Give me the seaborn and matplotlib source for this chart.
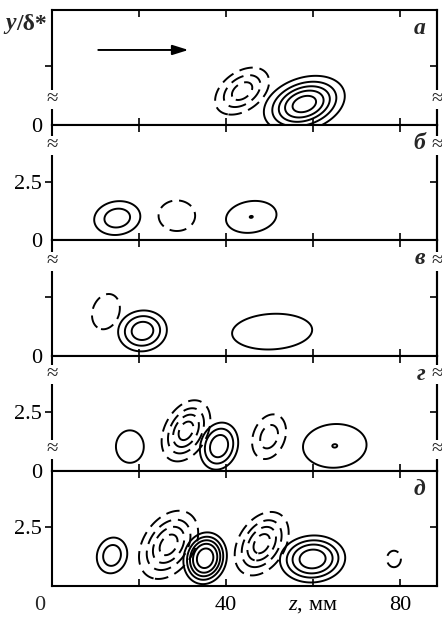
import numpy as np
import pandas as pd
import matplotlib
matplotlib.use("Agg")
import matplotlib.pyplot as plt
import matplotlib.transforms as mtransforms
import seaborn as sns

# contour blobs
# centre (mm, y/delta*), half-width of the outer contour, tilt, peak in contour steps
# (positive = solid, negative = dashed), squareness of the contours
blob_panel = [0, 0, 1, 1, 1, 2, 2, 2, 3, 3, 3, 3, 3, 4, 4, 4, 4, 4, 4]
blob_cx = [58.0, 43.7, 15.0, 28.7, 45.8, 12.4, 20.8, 50.6, 17.9, 30.8, 38.4, 49.9, 65.0,
           13.8, 26.8, 35.2, 48.2, 59.9, 78.6]
blob_cy = [0.9, 1.45, 0.95, 1.05, 1.0, 1.87, 1.05, 1.02, 1.03, 1.7, 1.05, 1.45, 1.06,
           1.3, 1.75, 1.18, 1.8, 1.15, 1.15]
blob_wx = [9.3, 6.2, 5.3, 4.2, 5.8, 3.2, 5.6, 9.2, 3.2, 5.6, 4.4, 3.9, 7.3,
           3.5, 6.8, 5.0, 6.2, 7.5, 1.6]
blob_wy = [1.2, 1.0, 0.72, 0.65, 0.68, 0.75, 0.87, 0.76, 0.69, 1.3, 1.0, 0.95, 0.93,
           0.76, 1.45, 1.1, 1.35, 1.0, 0.35]
blob_rho = [0.28, 0.4, 0.1, 0.0, 0.15, 0.2, 0.05, 0.1, 0.0, 0.35, 0.15, 0.25, 0.05,
            0.1, 0.35, 0.1, 0.35, 0.05, 0.0]
blob_amp = [5.6, -3.6, 2.6, -1.6, 2.003, -1.6, 3.6, 1.6, 1.6, -4.6, 3.6, -2.6, 2.003,
            2.6, -4.6, 5.6, -4.6, 4.6, -1.6]
blob_power = [1.1, 1.0, 1.1, 1.0, 1.1, 1.0, 1.2, 1.6, 1.2, 1.0, 1.3, 1.0, 1.2,
              1.2, 1.0, 1.4, 1.0, 1.3, 1.0]

panel_letters = ["а", "б", "в", "г", "д"]
panel_breaks = [[1.1], [4.05], [4.0], [4.1, 0.9], []]
panel_show_25 = [False, True, False, True, True]
panel_show_0 = [True, True, True, True, False]

xtick_pos = [20, 40, 60, 80]
xtick_text = ["", "40", "$z$, мм", "80"]

arrow_x = [10, 32]
arrow_y = 3.2

blobs = pd.DataFrame(dict(panel=blob_panel, cx=blob_cx, cy=blob_cy, wx=blob_wx, wy=blob_wy,
                          rho=blob_rho, amp=blob_amp, power=blob_power))

sns.set_theme(style="ticks")
plt.rcParams["font.family"] = ["Liberation Serif", "DejaVu Serif"]
plt.rcParams["mathtext.fontset"] = "custom"
plt.rcParams["mathtext.it"] = "Liberation Serif:italic"
plt.rcParams["mathtext.rm"] = "Liberation Serif"

fig = plt.figure(figsize=(4.42, 6.2), dpi=100)
axes = fig.subplots(5, 1, sharex=True, gridspec_kw=dict(hspace=0))
fig.subplots_adjust(left=52 / 442, right=437 / 442, top=1 - 10 / 620, bottom=1 - 586 / 620)

xx, yy = np.meshgrid(np.linspace(0, 90, 800), np.linspace(-1.5, 5.5, 480))

for _, b in blobs.iterrows():
    ax = axes[int(b.panel)]
    a = abs(b.amp)
    r0 = (2 * np.log(a)) ** (1 / (2 * b.power))
    dx = (xx - b.cx) / (b.wx / r0)
    dy = (yy - b.cy) / (b.wy / r0)
    q = (dx ** 2 - 2 * b.rho * dx * dy + dy ** 2) / (1 - b.rho ** 2)
    f = a * np.exp(-0.5 * q ** b.power)
    levels = np.arange(1, int(a) + 1)
    ls = "solid" if b.amp > 0 else [(0, (7, 3.5))]
    ax.contour(xx, yy, f, levels=levels, colors="black", linewidths=1.4, linestyles=ls)

for i, ax in enumerate(axes):
    ax.set_xlim(0, 88.5)
    ax.set_ylim(0, 4.9)
    for s in ax.spines.values():
        s.set_linewidth(1.5)
        s.set_color("black")
    ax.set_xticks(xtick_pos)
    ax.tick_params(axis="x", direction="in", top=True, bottom=True, length=5, width=1.2,
                   labelbottom=(i == 4), labelsize=16, pad=7, colors="black")
    # left ticks point out, right ticks point in
    ax.set_yticks([0, 2.5])
    ax.set_yticklabels(["0" if panel_show_0[i] else "", "2.5" if panel_show_25[i] else ""])
    ax.tick_params(axis="y", direction="out", left=True, right=False, length=5, width=1.2,
                   labelsize=16, pad=2, colors="black")
    ax.yaxis.get_major_ticks()[0].tick1line.set_visible(False)
    sec = ax.secondary_yaxis("right")
    sec.set_yticks([2.5])
    sec.tick_params(direction="in", length=5, width=1.2, labelright=False, colors="black")
    sec.spines["right"].set_linewidth(1.5)
    ax.text(0.97, 0.84, panel_letters[i], transform=ax.transAxes, ha="right", va="center",
            fontsize=17, style="italic", weight="bold")
    trans = mtransforms.blended_transform_factory(ax.transAxes, ax.transData)
    for yb in panel_breaks[i]:
        for xs in (0, 1):
            ax.text(xs, yb, "≈", transform=trans, ha="center", va="center", fontsize=15,
                    clip_on=False, zorder=10,
                    bbox=dict(facecolor="white", edgecolor="none", pad=0))

axes[4].set_xticklabels(xtick_text)
axes[4].annotate("0", xy=(0, 0), xycoords="axes fraction", xytext=(-12, -10),
                 textcoords="offset pixels", ha="center", va="top", fontsize=16)

axes[0].annotate("", xy=(arrow_x[1], arrow_y), xytext=(arrow_x[0], arrow_y),
                 arrowprops=dict(arrowstyle="-|>,head_length=0.8,head_width=0.25",
                                 color="black", lw=1.4))

# axis title: bold italic y, then bold "/δ*"
ylab_y = fig.text(5 / 442, 1 - 24 / 620, "y", fontsize=17, ha="left", va="center",
                  weight="bold", style="italic")
fig.canvas.draw()
bb = ylab_y.get_window_extent()
fig.text(bb.x1 / fig.bbox.width + 0.002, 1 - 24 / 620, "/δ*", fontsize=17, ha="left",
         va="center", weight="bold")

fig.savefig("out.png", dpi=100)
